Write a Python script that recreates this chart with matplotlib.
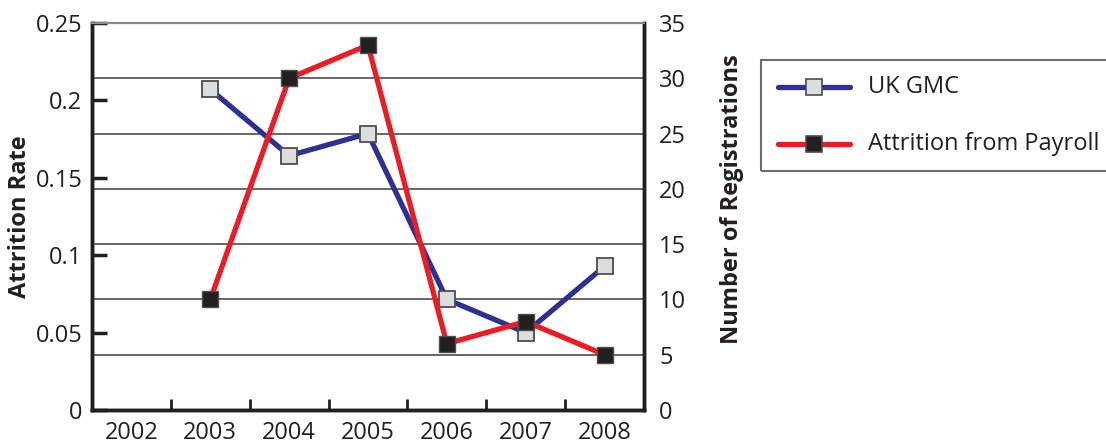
import matplotlib
matplotlib.use("Agg")
import matplotlib.pyplot as plt
from matplotlib.lines import Line2D
from matplotlib.patches import Rectangle

plt.rcParams['font.family'] = ['Open Sans', 'DejaVu Sans']

years = ["2002", "2003", "2004", "2005", "2006", "2007", "2008"]
gmc_years = ["2003", "2004", "2005", "2006", "2007", "2008"]
uk_gmc = [29, 23, 25, 10, 7, 13]
payroll = [10, 30, 33, 6, 8, 5]
rate_ticks = [0, 0.05, 0.1, 0.15, 0.2, 0.25]
rate_labels = ["0", "0.05", "0.1", "0.15", "0.2", "0.25"]
reg_ticks = [0, 5, 10, 15, 20, 25, 30, 35]

W, H = 1106, 446
fig = plt.figure(figsize=(W / 100, H / 100), dpi=100)
ax = fig.add_axes([92 / W, 1 - 410 / H, 552 / W, 387 / H])
ax2 = ax.twinx()

blue = "#2E3192"
red = "#ED1C24"
ink = "#231F20"
fs = 17

xpos = [years.index(y) for y in gmc_years]

# left axis: attrition rate
ax.set_xlim(-0.5, len(years) - 0.5)
ax.set_ylim(0, 0.25)
ax.set_yticks(rate_ticks)
ax.set_yticklabels(rate_labels)
ax.set_xticks(range(len(years)))
ax.set_xticklabels(years)
ax.set_xticks([i + 0.5 for i in range(len(years) - 1)], minor=True)
ax.tick_params(axis='x', which='major', length=0, pad=8, labelsize=fs, colors=ink)
ax.tick_params(axis='x', which='minor', direction='in', length=8, width=2, color=ink)
ax.tick_params(axis='y', direction='in', length=11, width=2.5, pad=7, labelsize=fs,
               color=ink, labelcolor=ink)
ax.set_ylabel("Attrition Rate", fontsize=fs, fontweight='bold', color=ink)
ax.yaxis.set_label_coords(-0.109, 0.5)

# right axis: registrations
ax2.set_ylim(0, 35)
ax2.set_yticks(reg_ticks)
ax2.tick_params(axis='y', length=0, pad=11, labelsize=fs, labelcolor=ink)
ax2.set_ylabel("Number of Registrations", fontsize=fs, fontweight='bold', color=ink)
ax2.yaxis.set_label_coords(1.138, 0.545)

# horizontal grid lines at the registration ticks
for v in reg_ticks[1:-1]:
    ax2.axhline(v, color='#4D4D4D', lw=1.2, zorder=1)

for a in (ax, ax2):
    for s in ('left', 'right', 'bottom'):
        a.spines[s].set_linewidth(2.5)
        a.spines[s].set_color(ink)
    a.spines['top'].set_color('#8A8A8A')
    a.spines['top'].set_linewidth(1.5)
ax.patch.set_visible(False)

ax2.plot(xpos, uk_gmc, color=blue, lw=3.8, marker='s', ms=11.5,
         mfc='#DCDDDE', mec='#4D4D4D', mew=1.3, zorder=3, label="UK GMC")
ax2.plot(xpos, payroll, color=red, lw=3.8, marker='s', ms=11.5,
         mfc=ink, mec='#4D4D4D', mew=1.0, zorder=4, label="Attrition from Payroll")

# legend box
fig.patches.append(Rectangle((761 / W, 1 - 171 / H), 360 / W, 111 / H,
                             transform=fig.transFigure, fill=False,
                             edgecolor='#6D6E71', lw=1.5))
rows = [("UK GMC", blue, '#DCDDDE', 87), ("Attrition from Payroll", red, ink, 144)]
for label, lc, mfc, yy in rows:
    fig.lines.append(Line2D([778 / W, 850 / W], [1 - yy / H, 1 - yy / H],
                            transform=fig.transFigure, color=lc, lw=3.8,
                            solid_capstyle='round'))
    fig.lines.append(Line2D([814 / W], [1 - yy / H], transform=fig.transFigure,
                            marker='s', ms=11.5, mfc=mfc, mec='#4D4D4D', mew=1.2))
    fig.text(868 / W, 1 - yy / H, label, fontsize=fs, va='center', ha='left',
             color=ink)

fig.savefig("out.png", dpi=100)
